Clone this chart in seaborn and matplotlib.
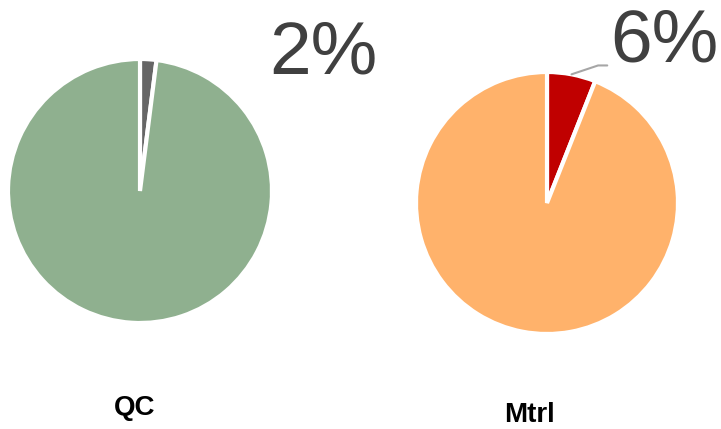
import matplotlib
matplotlib.use("Agg")
import matplotlib.pyplot as plt
import numpy as np
import seaborn as sns

sns.set_theme(style="white")
plt.rcParams["font.family"] = ["Liberation Sans", "DejaVu Sans"]

# Share of each category, in percent (highlighted slice first)
categories = ["QC", "Mtrl"]
highlight_pct = [2, 6]
rest_pct = [100 - v for v in highlight_pct]
highlight_colors = ["#666666", "#C00000"]
rest_colors = ["#8FB08F", "#FFB26B"]

W, H = 721, 429
fig = plt.figure(figsize=(W / 100, H / 100), dpi=100)

# pie centres and radii in pixels (x from left, y from top)
layout = [(140, 191, 132), (547, 203, 131)]
title_pos = [(135, 408), (530, 415)]


def pie_axes(cx, cy, r):
    return fig.add_axes([(cx - r) / W, (H - cy - r) / H, 2 * r / W, 2 * r / H])


axes = []
for i, name in enumerate(categories):
    cx, cy, r = layout[i]
    ax = pie_axes(cx, cy, r)
    ax.pie(
        [highlight_pct[i], rest_pct[i]],
        colors=[highlight_colors[i], rest_colors[i]],
        startangle=90,
        counterclock=False,
        wedgeprops=dict(edgecolor="white", linewidth=3),
    )
    ax.set_xlim(-1, 1)
    ax.set_ylim(-1, 1)
    ax.set_aspect("auto")
    ax.axis("off")
    axes.append(ax)

    tx, ty = title_pos[i]
    fig.text(tx / W, 1 - ty / H, name, ha="center", va="center",
             fontsize=20, fontweight="bold", color="#000000")

# QC value label
fig.text(269 / W, 1 - 73 / H, f"{highlight_pct[0]}%", ha="left", va="baseline",
         fontsize=54, color="#404040")

# Mtrl value label with leader line from the slice's outer edge
ax = axes[1]
mid = np.deg2rad(90 - highlight_pct[1] / 100 * 360 / 2)
x0, y0 = np.cos(mid), np.sin(mid)
ax.plot([x0, 0.39, 0.46], [y0, 1.05, 1.05], color="#A6A6A6", lw=1.5,
        clip_on=False)
fig.text(610 / W, 1 - 62 / H, f"{highlight_pct[1]}%", ha="left", va="baseline",
         fontsize=54, color="#404040")

fig.savefig("out.png", dpi=100, facecolor="white")
